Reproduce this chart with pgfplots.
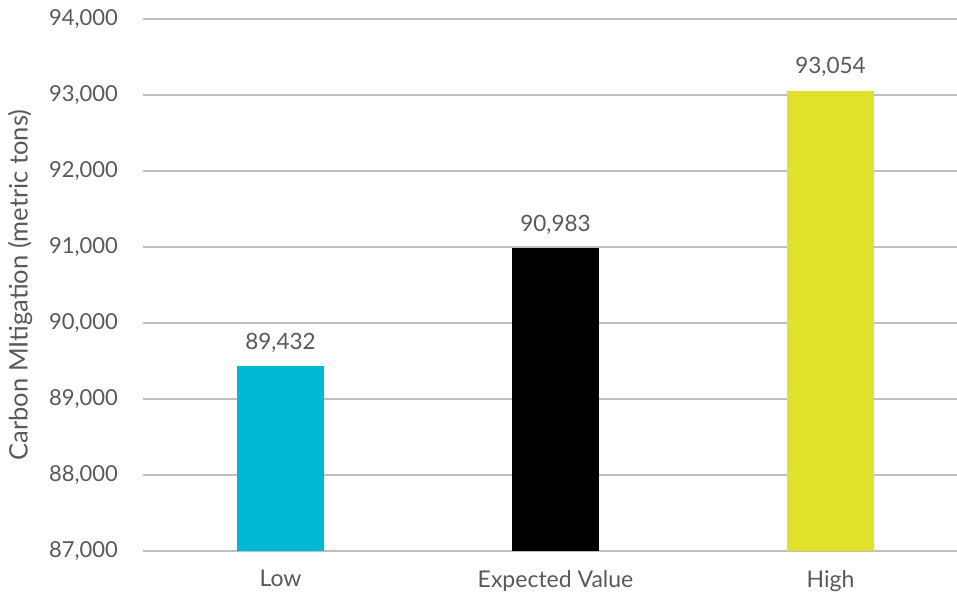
\documentclass[border=0pt]{standalone}
\usepackage{pgfplots}
\pgfplotsset{compat=1.18}
\usepackage{fontspec}
\setmainfont{Lato}
\definecolor{txt}{HTML}{595959}
\definecolor{grid}{HTML}{E4E4E4}
\definecolor{cyanbar}{HTML}{00B9D4}
\definecolor{yelbar}{HTML}{E0E12A}
\begin{document}
\begin{tikzpicture}
\begin{axis}[
  at={(0,0)}, anchor=south west,
  scale only axis,
  width=814pt, height=532pt,
  xmin=-0.5, xmax=2.46,
  ymin=87000, ymax=94000,
  ytick={87000,88000,...,94000},
  scaled y ticks=false,
  xtick={0,1,2},
  xticklabels={Low,Expected Value,High},
  axis line style={draw=none},
  major tick length=0pt,
  tick style={draw=none},
  xmajorgrids=false,
  ymajorgrids=true,
  grid style={grid, line width=1.6pt},
  font=\fontsize{21}{25}\selectfont,
  every tick label/.append style={text=txt},
  /pgf/number format/.cd, 1000 sep={,}, assume math mode=true, fixed,
  /pgfplots/.cd,
  yticklabel style={inner sep=0pt, xshift=-25pt, font=\fontsize{22}{26}\selectfont},
  xticklabel style={inner sep=0pt, anchor=north, yshift=-19pt, font=\fontsize{23}{27}\selectfont},
  ylabel={Carbon MItigation (metric tons)},
  ylabel style={at={(axis description cs:-0.1511,0.5)}, anchor=center, text=txt, font=\fontsize{25.5}{30}\selectfont},
  ybar, bar width=87pt, bar shift=0pt,
  nodes near coords,
  nodes near coords style={text=txt, inner sep=0pt, anchor=base, yshift=17pt, font=\fontsize{22.5}{26}\selectfont, /pgf/number format/.cd, 1000 sep={,}, fixed, assume math mode=true},
  clip=false,
]
\addplot[fill=cyanbar, draw=none] coordinates {(0,89432)};
\addplot[fill=black, draw=none] coordinates {(1,90983)};
\addplot[fill=yelbar, draw=none] coordinates {(2,93054)};
\end{axis}
\pgfresetboundingbox
\path[use as bounding box] (-143pt,-47pt) rectangle (814pt,551pt);
\end{tikzpicture}
\end{document}
